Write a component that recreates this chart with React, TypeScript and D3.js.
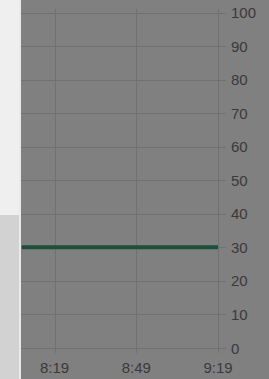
import React from "react";
import * as d3 from "d3";

const timeLabels = ["8:19", "8:49", "9:19"];
const yTicks = [0, 10, 20, 30, 40, 50, 60, 70, 80, 90, 100];
const seriesTimes = ["8:07", "9:19"];
const seriesValues = [30, 30];

const toMin = (s: string) => {
  const [h, m] = s.split(":").map(Number);
  return h * 60 + m;
};

export default function App() {
  const W = 269, H = 379;
  const plotLeft = 21, plotRight = 218;
  const x = d3.scaleLinear().domain([toMin("8:07") - 0.3, toMin("9:19")]).range([plotLeft, plotRight]);
  const y = d3.scaleLinear().domain([0, 100]).range([348, 12.5]);
  const line = d3.line<number>()
    .x((_, i) => x(toMin(seriesTimes[i])))
    .y((d) => y(d));
  const font = "'Liberation Sans', Arial, sans-serif";
  return (
    <svg width={W} height={H} style={{ position: "absolute", left: 0, top: 0, display: "block" }}>
      <rect x={0} y={0} width={W} height={H} fill="#808080" />
      <rect x={0} y={0} width={20} height={215} fill="#efefef" />
      <rect x={0} y={215} width={20} height={H - 215} fill="#d2d2d2" />
      <rect x={19} y={0} width={2} height={H} fill="#e9e9e9" />
      {yTicks.map((t) => (
        <g key={t}>
          <line x1={plotLeft} x2={226} y1={Math.round(y(t)) + 0.5} y2={Math.round(y(t)) + 0.5} stroke="#717171" strokeWidth={1} />
          <text x={231} y={y(t) + 5.5} fontFamily={font} fontSize={15} fill="#3a3a3a">{t}</text>
        </g>
      ))}
      {timeLabels.map((l) => (
        <g key={l}>
          <line x1={Math.round(x(toMin(l))) + 0.5} x2={Math.round(x(toMin(l))) + 0.5} y1={9} y2={353} stroke="#717171" strokeWidth={1} />
          <text x={x(toMin(l))} y={373} textAnchor="middle" fontFamily={font} fontSize={15} fill="#3a3a3a">{l}</text>
        </g>
      ))}
      <path d={line(seriesValues) || ""} fill="none" stroke="#1e4f38" strokeWidth={4} />
    </svg>
  );
}
